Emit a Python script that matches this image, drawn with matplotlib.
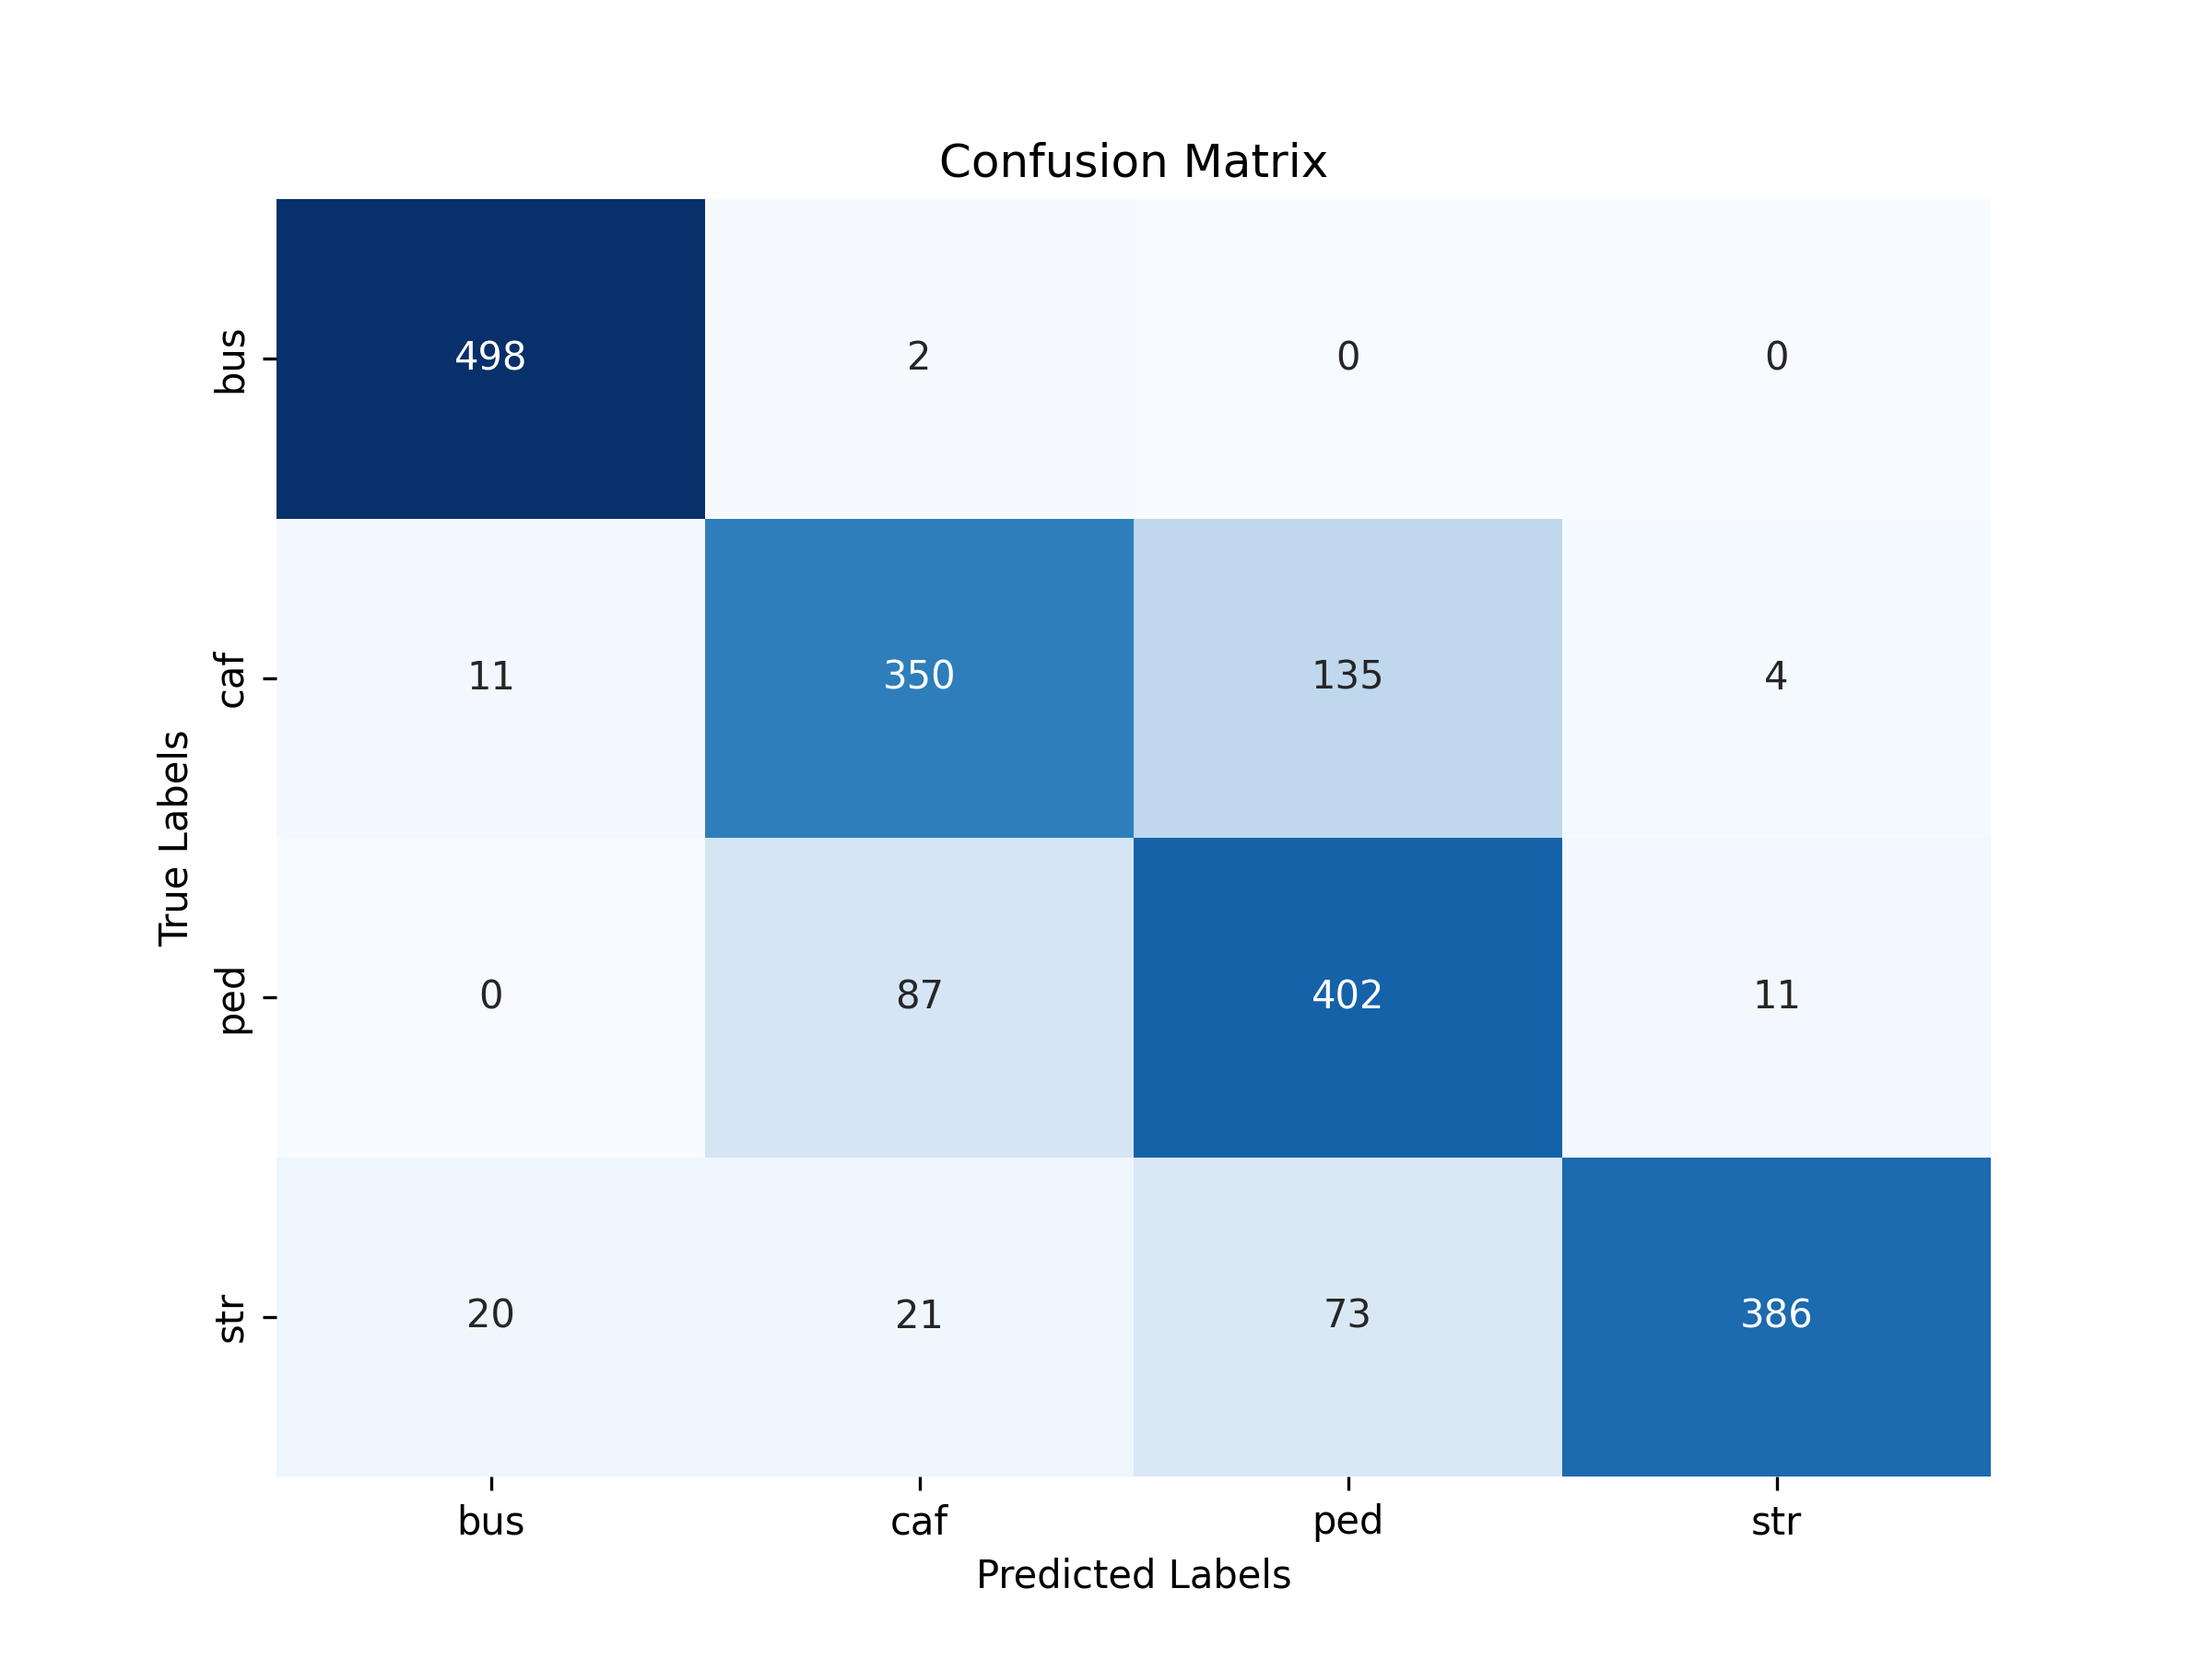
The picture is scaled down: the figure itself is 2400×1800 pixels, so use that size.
import numpy as np
import matplotlib
matplotlib.use("Agg")
import matplotlib.pyplot as plt
import seaborn as sns

labels = ["bus", "caf", "ped", "str"]
cm = np.array([[498, 2, 0, 0],
               [11, 350, 135, 4],
               [0, 87, 402, 11],
               [20, 21, 73, 386]])

fig = plt.figure(figsize=(8, 6), dpi=300)
ax = sns.heatmap(cm, annot=True, fmt="d", cmap="Blues", cbar=False,
                 xticklabels=labels, yticklabels=labels)
ax.set_title("Confusion Matrix")
ax.set_xlabel("Predicted Labels")
ax.set_ylabel("True Labels")
fig.savefig("out.png", dpi=300)
